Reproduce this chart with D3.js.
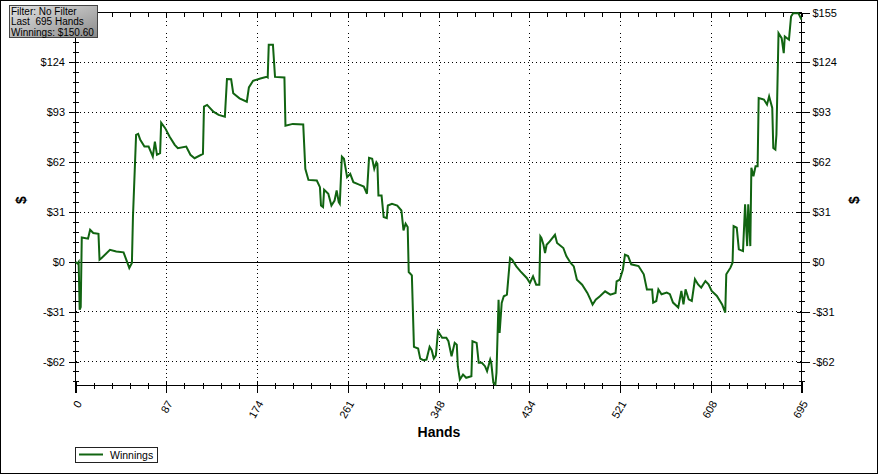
<!DOCTYPE html>
<html><head><meta charset="utf-8">
<script src="https://cdn.jsdelivr.net/npm/d3@7"></script>
<style>
body{margin:0;background:#fff}
svg{display:block}
text{font-family:"Liberation Sans",Arial,sans-serif;fill:#000}
</style>
</head><body>
<svg id="c" width="878" height="474"></svg>
<script>
// ---- data ----
const hands = [0,2,3,4,5,6,12,14,17,22,23,25,33,39,46,50,51.5,54,55,58,60,62,66,70,74,76,78,81,82,86,90,95,98,106,110,114,122,123,126,132,137,143,145,149,151,157,164,166,170,177,183,184,185,189,191,200,201,208,218,220,223,231,234,235,237,238,242,245,248,250,252,253,255,257,260,263,266,271,276,279,281,284,286,288,289,290,293,295,298,299,303,308,312,314,316,318,319,322,324,328,330,333,336,339,341,343,345,347,351,355,357,360,363,365,366,368,371,374,379,380,384,386,389,392,394,397,398,400,402,403,405,406,408,410,413,416,418,422,426,432,435,438,441,444,445,446,448,449.5,451,454,459,461,467,470,474,477,480,485,490,493,495,498,502,507,512,517,518,521,524,526,529,532,539,544,547,552,553,556,558,561,566,569,572,577,580,582,584,587,590,593,596,599,603,606,609,614,619,622,623,627,629,630,633,635,639,641,643,644,646,647,649,651,653,654,659,662,664,667,668,670,671,673,676,678,679,683,685,687,692,695];
const winnings = [0,-1,0,-29.6,-28,15.2,14.5,20,18,17.5,1.4,2.5,7.6,6.6,6,-1,-3.7,-0.6,28,79,79.6,75.9,71.7,71.7,65.5,74.8,66.6,67.6,86.6,83,78,72.8,70.7,71.7,66.6,64.5,67.2,96.5,97.6,93.4,91.4,90.3,113.7,113.5,104.8,101.7,99.6,108.5,112.6,114,115.1,114.7,135,135,115,114.7,84.7,85.8,85.4,57.9,51,50.6,46.5,35.1,34.1,44.9,42.4,35.1,38.2,44.4,37.2,36.2,65.5,64.1,52.7,54.8,49.6,48.2,46.9,42.4,64.7,64.1,57.9,62,61,41.3,41.3,27.9,27.3,35.1,36.2,35.1,32,19.6,23.8,21.7,-6.2,-8.3,-52.7,-53.7,-60,-61,-60.6,-52.7,-54.8,-60,-58,-43,-47.1,-47.1,-49.2,-58.5,-50.2,-51.3,-64.7,-73,-69.9,-71.9,-70.9,-49.2,-50.2,-62.6,-62.6,-64.7,-67.8,-60.6,-62.6,-75,-76,-68.8,-23.4,-44,-25.4,-21.3,-20.3,2.5,1.4,-2.7,-5.8,-9.9,-13,-8.9,-14.1,-14.1,15.9,14.9,10.7,5.6,10.7,12.8,16.9,11.8,8.7,3.5,-0.6,-2.7,-11,-14.1,-19.2,-23.4,-26.5,-23.4,-21.3,-18.2,-20.3,-19.2,-12,-11,-4.8,4.5,3.7,-1.4,-2.5,-7.6,-17,-17,-25.2,-24.2,-17,-20,-19,-20,-25.2,-28.3,-18,-26.3,-17,-23.2,-24.2,-10.7,-13.9,-15.9,-11.8,-13.9,-18,-21.1,-26.3,-31.4,-7.6,-3.5,-0.4,22.3,21.3,7.9,6.8,35.8,9.9,35.8,9.9,58.5,53.3,59.5,59.5,101.9,100.9,97.8,102.9,95.7,70.9,69.9,79.2,142.2,139.1,129.8,140.1,138.1,152.5,154.6,154.6,150.6];
const yTickValues = [-62,-31,0,31,62,93,124,155];
const xTickLabels = ["0","87","174","261","348","434","521","608","695"];
const infoLines = ["Filter: No Filter","Last  695 Hands","Winnings: $150.60"];
const seriesName = "Winnings";
const xTitle = "Hands";
const yTitle = "$";

// ---- drawing ----
const svg = d3.select("#c");
const lineColor = "#116411";
const x = d3.scaleLinear().domain([0,695]).range([75.5,801.5]);
const y = d3.scaleLinear().domain([-76.7,155]).range([385.5,12.5]);
const xMajor = xTickLabels.map((l,i)=> i*695/(xTickLabels.length-1));
const xMinor = d3.range(0,41).map(i=>i*695/40).filter((v,i)=> i%5!==0);
const yMinor = d3.range(-12,26).map(k=>k*6.2).filter(v=> v>=-76.7 && v<=155 && Math.abs(v/31 - Math.round(v/31))>1e-6);
const fmt = d => d<0 ? "-$"+(-d) : "$"+d;

svg.append("rect").attr("x",0.5).attr("y",0.5).attr("width",877).attr("height",473)
  .attr("fill","#fff").attr("stroke","#000");

const g = svg.append("g").attr("shape-rendering","crispEdges");
// grid
g.selectAll(".vg").data(xMajor.slice(1,-1)).join("line")
  .attr("x1",d=>Math.round(x(d))+0.5).attr("x2",d=>Math.round(x(d))+0.5)
  .attr("y1",12.5).attr("y2",385.5).attr("stroke","#000").attr("stroke-dasharray","1,3");
g.selectAll(".hg").data(yTickValues.filter(v=>v!==0&&v!==155)).join("line")
  .attr("x1",75.5).attr("x2",801.5)
  .attr("y1",d=>Math.round(y(d)-0.5)+0.5).attr("y2",d=>Math.round(y(d)-0.5)+0.5)
  .attr("stroke","#000").attr("stroke-dasharray","1,3");
// zero line
g.append("line").attr("x1",75.5).attr("x2",801.5)
  .attr("y1",Math.round(y(0)-0.5)+0.5).attr("y2",Math.round(y(0)-0.5)+0.5).attr("stroke","#000");

// top border line with inward ticks
g.append("line").attr("x1",75.5).attr("x2",801.5).attr("y1",12.5).attr("y2",12.5).attr("stroke","#000");
g.selectAll(".tt").data(xMajor.concat(xMinor)).join("line")
  .attr("x1",d=>Math.round(x(d))+0.5).attr("x2",d=>Math.round(x(d))+0.5)
  .attr("y1",12.5).attr("y2",17).attr("stroke","#000");

// left axis (the $155 label is hidden under the info box in the reference)
const axL = svg.append("g").attr("transform","translate(75.5,0)")
  .call(d3.axisLeft(y).tickValues(yTickValues).tickFormat(d => d===155 ? "" : fmt(d)).tickSizeInner(7).tickSizeOuter(0).tickPadding(3.5));
axL.select(".domain").remove();
axL.selectAll(".tick line").attr("x1",3).attr("shape-rendering","crispEdges");
axL.selectAll("text").attr("font-size",11).attr("font-family",null);
axL.append("line").attr("x1",0).attr("x2",0).attr("y1",12.5).attr("y2",393).attr("stroke","#000").attr("shape-rendering","crispEdges");
axL.selectAll(".mn").data(yMinor).join("line")
  .attr("x1",-3).attr("x2",3).attr("y1",d=>y(d)).attr("y2",d=>y(d)).attr("stroke","#000").attr("shape-rendering","crispEdges");

// right axis
const axR = svg.append("g").attr("transform","translate(801.5,0)")
  .call(d3.axisRight(y).tickValues(yTickValues).tickFormat(fmt).tickSizeInner(8).tickSizeOuter(0).tickPadding(3));
axR.select(".domain").remove();
axR.selectAll(".tick line").attr("x1",-5).attr("shape-rendering","crispEdges");
axR.selectAll("text").attr("font-size",11).attr("font-family",null);
axR.append("line").attr("x1",0).attr("x2",0).attr("y1",12.5).attr("y2",393).attr("stroke","#000").attr("shape-rendering","crispEdges");
axR.selectAll(".mn").data(yMinor).join("line")
  .attr("x1",-3).attr("x2",3).attr("y1",d=>y(d)).attr("y2",d=>y(d)).attr("stroke","#000").attr("shape-rendering","crispEdges");

// bottom axis
const axB = svg.append("g").attr("transform","translate(0,385.5)")
  .call(d3.axisBottom(x).tickValues(xMajor).tickFormat((d,i)=>xTickLabels[i]).tickSizeInner(7).tickSizeOuter(0));
axB.select(".domain").remove();
axB.append("line").attr("x1",75.5).attr("x2",801.5).attr("y1",0).attr("y2",0).attr("stroke","#000").attr("shape-rendering","crispEdges");
axB.selectAll(".tick line").attr("y1",-4).attr("shape-rendering","crispEdges");
axB.selectAll(".tick text").attr("font-size",11).attr("font-family",null)
  .attr("text-anchor","end").attr("x",0).attr("y",0).attr("dy","0.35em")
  .attr("transform","translate(3,16) rotate(-60)");
axB.selectAll(".mn").data(xMinor).join("line")
  .attr("x1",d=>Math.round(x(d))+0.5).attr("x2",d=>Math.round(x(d))+0.5)
  .attr("y1",-3).attr("y2",3).attr("stroke","#000").attr("shape-rendering","crispEdges");

// series line
const pts = hands.map((h,i)=>({h, v: winnings[i]}));
svg.append("path").datum(pts)
  .attr("d", d3.line().x(d=>x(d.h)).y(d=>y(d.v)))
  .attr("fill","none").attr("stroke",lineColor).attr("stroke-width",2).attr("stroke-linejoin","miter");

// titles
svg.append("text").attr("x",439).attr("y",437).attr("text-anchor","middle")
  .attr("font-size",14).attr("font-weight","bold").text(xTitle);
svg.append("text").attr("transform","translate(21.5,200) rotate(-90)").attr("text-anchor","middle")
  .attr("dy","0.35em").attr("font-size",14).attr("font-weight","bold").text(yTitle);
svg.append("text").attr("transform","translate(854,200) rotate(-90)").attr("text-anchor","middle")
  .attr("dy","0.35em").attr("font-size",14).attr("font-weight","bold").text(yTitle);

// info box
const defs = svg.append("defs");
const gr = defs.append("linearGradient").attr("id","ib").attr("x1",0).attr("y1",0).attr("x2",1).attr("y2",1);
gr.append("stop").attr("offset","0%").attr("stop-color","#e4e4e4");
gr.append("stop").attr("offset","100%").attr("stop-color","#8a8a8a");
svg.append("rect").attr("x",9.5).attr("y",5.5).attr("width",88).attr("height",32)
  .attr("fill","url(#ib)").attr("stroke","#444");
svg.selectAll(".info").data(infoLines).join("text")
  .attr("x",11).attr("y",(d,i)=>14.5+i*10.6).attr("font-size",10).attr("xml:space","preserve")
  .style("white-space","pre").text(d=>d);

// legend
svg.append("rect").attr("x",75.5).attr("y",447.5).attr("width",82).attr("height",15)
  .attr("fill","#fff").attr("stroke","#222");
svg.append("line").attr("x1",79).attr("x2",103).attr("y1",454.5).attr("y2",454.5)
  .attr("stroke",lineColor).attr("stroke-width",2);
svg.append("text").attr("x",110).attr("y",458.5).attr("font-size",10.5).text(seriesName);
</script>
</body></html>
